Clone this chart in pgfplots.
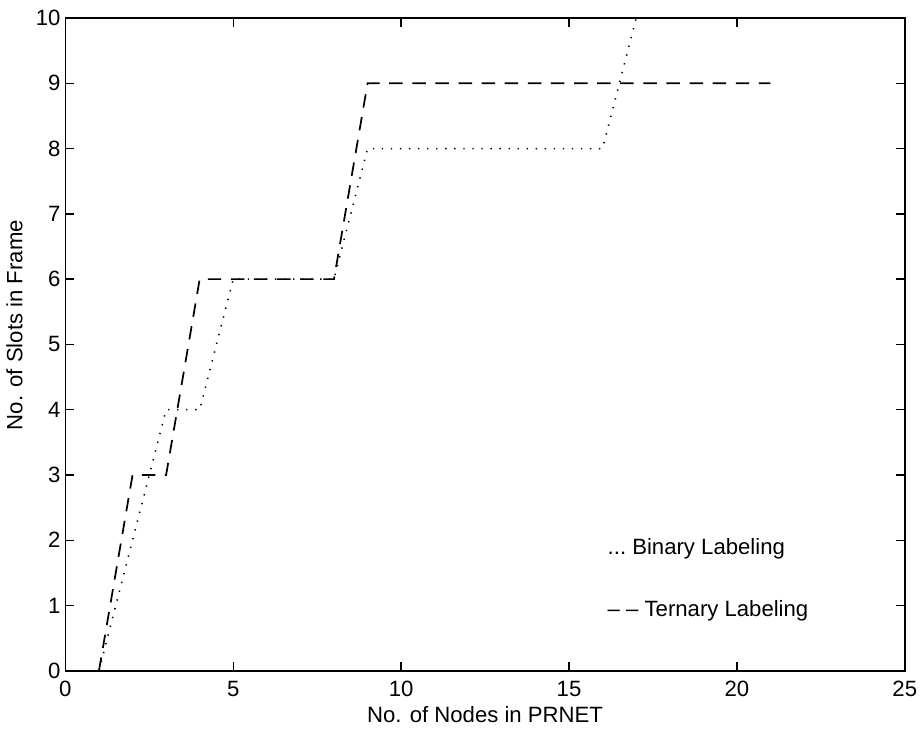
\documentclass[border=0pt]{standalone}
\usepackage{fontspec}
\setmainfont{Liberation Sans}
\usepackage{pgfplots}
\pgfplotsset{compat=1.18}
\begin{document}
\begin{tikzpicture}
\begin{axis}[
    scale only axis,
    width=436pt,
    height=339pt,
    xmin=0, xmax=25,
    ymin=0, ymax=10,
    xtick={0,5,...,25},
    ytick={0,1,...,10},
    tick align=inside,
    major tick length=4.5pt,
    axis line style={line width=0.9pt},
    every tick/.style={black, line width=0.7pt},
    xlabel={No. of Nodes in PRNET},
    ylabel={No. of Slots in Frame},
    xlabel style={yshift=2pt},
    ylabel style={yshift=0pt, xshift=10pt},
    xticklabel style={yshift=-2pt},
    yticklabel style={xshift=1pt},
    tick label style={font=\fontsize{11.5}{13.5}\selectfont},
    label style={font=\fontsize{11.5}{13.5}\selectfont},
    /pgf/number format/assume math mode=true,
    clip=true,
]
% Binary labeling (dotted)
\addplot[black, line width=0.8pt, dash pattern=on 0.7pt off 4pt] coordinates {
    (1,0) (3,4) (4,4) (5,6) (8,6) (9,8) (16,8) (17,10)
};
% Ternary labeling (dashed)
\addplot[black, line width=0.9pt, dash pattern=on 7pt off 5pt] coordinates {
    (1,0) (2,3) (3,3) (4,6) (8,6) (9,9) (21,9)
};
\node[anchor=west, font=\fontsize{11.5}{13.5}\selectfont] at (axis cs:15.95,1.87) {...\ Binary Labeling};
\node[anchor=west, font=\fontsize{11.5}{13.5}\selectfont] at (axis cs:15.95,0.92) {-- -- Ternary Labeling};
\end{axis}
\path ([xshift=10pt]current axis.east);
\path ([yshift=9.4pt]current axis.north);
\end{tikzpicture}
\end{document}
